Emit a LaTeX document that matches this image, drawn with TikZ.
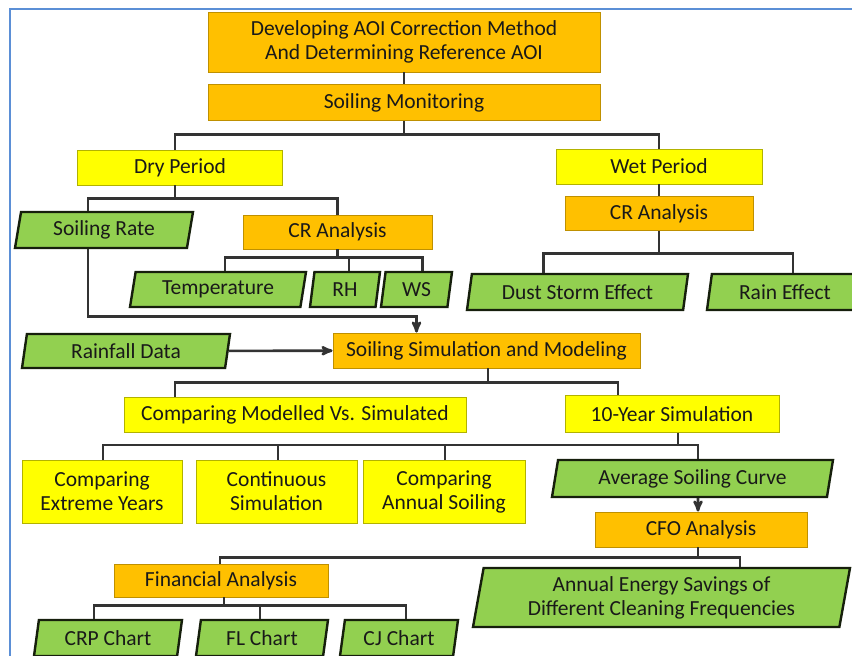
\documentclass[tikz,border=0pt]{standalone}
\usepackage{fontspec}
\setmainfont{Carlito}
\usetikzlibrary{shapes,arrows,calc,positioning,shapes.geometric}
\definecolor{boxorange}{HTML}{FFC000}
\definecolor{boxyellow}{HTML}{FFFF00}
\definecolor{boxgreen}{HTML}{92D050}
\definecolor{linegray}{HTML}{333333}
\definecolor{frameblue}{HTML}{5B8FD6}

\begin{document}
\begin{tikzpicture}[x=1pt,y=-1pt,>=stealth',
  every node/.style={font=\fontsize{21.5}{24}\selectfont, text=black!90, inner sep=0pt, align=center},
  orbox/.style={rectangle, fill=boxorange, draw=boxorange!75!black, line width=0.9pt},
  yebox/.style={rectangle, fill=boxyellow, draw=boxyellow!70!black, line width=0.7pt},
  grbox/.style={trapezium, trapezium left angle=72, trapezium right angle=108, trapezium stretches body, fill=boxgreen, draw=black!85!boxgreen, line width=2.4pt},
  link/.style={draw=linegray, line width=2.6pt},
  frameline/.style={draw=frameblue, line width=1.6pt}]
\useasboundingbox (0,0) rectangle (852,656);
\draw[frameline] (852,9) -- (10,9) -- (10,656);

\node[orbox, minimum width=392, minimum height=60] (top) at (404,42) {Developing AOI Correction Method\\And Determining Reference AOI};
\node[orbox, minimum width=392, minimum height=36, below=12pt of top] (mon) {Soiling Monitoring};
\node[yebox, minimum width=205, minimum height=35] (dry) at (180,167.5) {Dry Period};
\node[yebox, minimum width=206, minimum height=35] (wet) at (659,166.5) {Wet Period};
\node[orbox, minimum width=188, minimum height=34, below=12pt of wet] (crwet) {CR Analysis};
\node[grbox, minimum width=178, minimum height=36] (srate) at (104,230) {Soiling Rate};
\node[orbox, minimum width=189, minimum height=34] (crdry) at (337.5,232) {CR Analysis};
\node[grbox, minimum width=176, minimum height=35] (temp) at (218,289.5) {Temperature};
\node[grbox, minimum width=70, minimum height=35] (rh) at (345,289.5) {RH};
\node[grbox, minimum width=71, minimum height=35] (ws) at (416.5,289.5) {WS};
\node[grbox, minimum width=221, minimum height=36] (dust) at (577.5,292) {Dust Storm Effect};
\node[grbox, minimum width=156, minimum height=36] (rain) at (785,292) {Rain Effect};
\node[grbox, minimum width=208, minimum height=34] (rdata) at (126,351) {Rainfall Data};
\node[orbox, minimum width=307, minimum height=35] (sim) at (486.5,350.5) {Soiling Simulation and Modeling};
\node[yebox, minimum width=342, minimum height=35] (cmp) at (295,414.5) {Comparing Modelled Vs. Simulated};
\node[yebox, minimum width=214, minimum height=37] (tenyr) at (672,414) {10-Year Simulation};
\node[yebox, minimum width=160, minimum height=63] (extr) at (102,491.5) {Comparing\\Extreme Years};
\node[yebox, minimum width=161, minimum height=63] (cont) at (276.5,491.5) {Continuous\\Simulation};
\node[yebox, minimum width=162, minimum height=63] (annsoil) at (444,491.5) {Comparing\\Annual Soiling};
\node[grbox, minimum width=281, minimum height=37] (avg) at (692.5,478.5) {Average Soiling Curve};
\node[orbox, minimum width=212, minimum height=35] (cfo) at (701,529.5) {CFO Analysis};
\node[orbox, minimum width=214, minimum height=33] (fin) at (221,580.5) {Financial Analysis};
\node[grbox, minimum width=377, minimum height=59, trapezium left angle=76, trapezium right angle=104] (saving) at (661.5,597.5) {Annual Energy Savings of\\Different Cleaning Frequencies};
\node[grbox, minimum width=148, minimum height=36] (crp) at (108,638) {CRP Chart};
\node[grbox, minimum width=132, minimum height=36] (flc) at (262,638) {FL Chart};
\node[grbox, minimum width=118, minimum height=36] (cjc) at (399,638) {CJ Chart};

\draw[link] (top) -- (mon);
\foreach \c/\dx in {dry/-5,wet/0}
  \draw[link] (mon.south) -- ++(0,13) -| ([xshift=\dx pt]\c.north);
\foreach \c/\dx in {srate/-16,crdry/0}
  \draw[link] ([xshift=-5pt]dry.south) -- ++(0,13) -| ([xshift=\dx pt]\c.north);
\foreach \c/\dx in {temp/7,rh/4,ws/6}
  \draw[link] (crdry.south) -- ++(0,8) -| ([xshift=\dx pt]\c.north);
\draw[link] (wet) -- (crwet);
\foreach \c/\dx in {dust/-34,rain/8}
  \draw[link] (crwet.south) -- ++(0,22) -| ([xshift=\dx pt]\c.north);
\draw[link,->] ([xshift=-16pt]srate.south) -- ++(0,67) -| ([xshift=-70pt]sim.north);
\draw[link,->] (rdata) -- (sim);
\foreach \c/\dx in {cmp/-120,tenyr/-54}
  \draw[link] ([xshift=1.5pt]sim.south) -- ++(0,14) -| ([xshift=\dx pt]\c.north);
\foreach \c/\dx in {extr/1,cont/1.5,annsoil/1,avg/5.5}
  \draw[link] ([xshift=6pt]tenyr.south) -- ++(0,12) -| ([xshift=\dx pt]\c.north);
\draw[link,->] ([xshift=5.5pt]avg.south) -- ([xshift=-3pt]cfo.north);
\foreach \c/\dx in {fin/-1,saving/78.5}
  \draw[link] ([xshift=-3pt]cfo.south) -- ++(0,10) -| ([xshift=\dx pt]\c.north);
\foreach \c/\dx in {crp/-14,flc/-2,cjc/7}
  \draw[link] ([xshift=3pt]fin.south) -- ++(0,8) -| ([xshift=\dx pt]\c.north);
\end{tikzpicture}
\end{document}
